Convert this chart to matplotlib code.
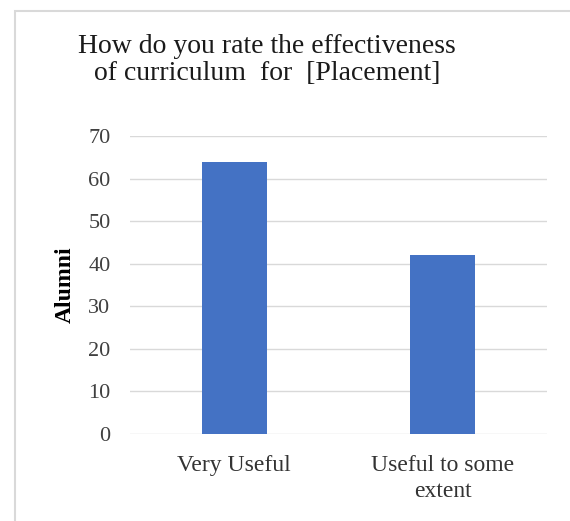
import matplotlib.pyplot as plt
from matplotlib.patches import Rectangle

categories = ["Very Useful", "Useful to some\nextent"]
values = [64, 42]
yticks = [0, 10, 20, 30, 40, 50, 60, 70]

W, H = 570, 521
fig = plt.figure(figsize=(W / 100, H / 100), dpi=100)
plt.rcParams['font.family'] = ['Liberation Serif', 'DejaVu Serif']

# светлая рамка вокруг области диаграммы
fig.patches.append(Rectangle((15 / W, -0.1), 1.0, 1 - 11 / H + 0.1,
                             transform=fig.transFigure, fill=False,
                             edgecolor='#d9d9d9', linewidth=1.5))

ax = fig.add_axes([130 / W, 1 - 434 / H, 417 / W, 298 / H])
x = range(len(categories))
ax.bar(x, values, width=0.31, color='#4472c4', zorder=3)
ax.set_xlim(-0.5, 1.5)
ax.set_ylim(0, 70)
ax.set_yticks(yticks)
ax.set_xticks(list(x))
ax.set_xticklabels(categories, fontsize=17, color='#333333', linespacing=1.3)
ax.tick_params(axis='y', labelsize=16, labelcolor='#404040', length=0, pad=14)
ax.tick_params(axis='x', length=0, pad=15)
ax.grid(axis='y', color='#d9d9d9', linewidth=1, zorder=0)
for s in ax.spines.values():
    s.set_visible(False)
ax.set_ylabel("Alumni", fontsize=17, fontweight='bold')
ax.yaxis.set_label_coords(-0.13, 0.5)

fig.text(267 / W, 1 - 60 / H, "How do you rate the effectiveness\nof curriculum  for  [Placement]",
         ha='center', va='center', fontsize=20, color='#1a1a1a', linespacing=1.1)

fig.savefig("out.png", dpi=100)
